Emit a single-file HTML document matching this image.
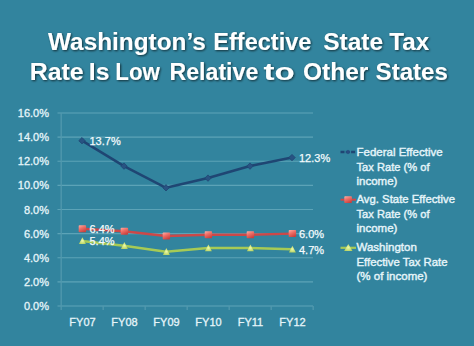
<!DOCTYPE html>
<html><head><meta charset="utf-8">
<style>
html,body{margin:0;padding:0;}
body{width:474px;height:346px;overflow:hidden;background:#32849e;}
svg{display:block;}
text{font-family:"Liberation Sans",sans-serif;}
</style></head>
<body>
<svg width="474" height="346" viewBox="0 0 474 346">
<defs>
<filter id="sh" x="-5%" y="-20%" width="110%" height="150%">
<feGaussianBlur in="SourceAlpha" stdDeviation="0.8"/>
<feOffset dx="1.2" dy="1.2" result="b"/>
<feComponentTransfer><feFuncA type="linear" slope="0.65"/></feComponentTransfer>
<feMerge><feMergeNode/><feMergeNode in="SourceGraphic"/></feMerge>
</filter>
<filter id="bl" x="-20%" y="-20%" width="140%" height="140%"><feGaussianBlur stdDeviation="0.35"/></filter>
<linearGradient id="rg" x1="0.1" y1="0" x2="0.6" y2="1">
<stop offset="0" stop-color="#ffa8a0"/><stop offset="0.45" stop-color="#ee6e66"/><stop offset="1" stop-color="#c8403e"/>
</linearGradient>
<radialGradient id="gg" cx="0.5" cy="0.5" r="0.7">
<stop offset="0" stop-color="#eefaa8"/><stop offset="1" stop-color="#a8c850"/>
</radialGradient>
</defs>
<rect x="0" y="0" width="474" height="346" fill="#32849e"/>
<g filter="url(#sh)" fill="#ffffff" font-weight="bold" font-size="24">
<text x="48.01" y="49.7" textLength="157.85" lengthAdjust="spacingAndGlyphs">Washington’s</text>
<text x="213.36" y="49.7" textLength="97.95" lengthAdjust="spacingAndGlyphs">Effective</text>
<text x="323.26" y="49.7" textLength="59.81" lengthAdjust="spacingAndGlyphs">State</text>
<text x="389.32" y="49.7" textLength="39.9" lengthAdjust="spacingAndGlyphs">Tax</text>
<text x="29.67" y="79.7" textLength="53.97" lengthAdjust="spacingAndGlyphs">Rate</text>
<text x="88.78" y="79.7" textLength="20.6" lengthAdjust="spacingAndGlyphs">Is</text>
<text x="115.34" y="79.7" textLength="44.57" lengthAdjust="spacingAndGlyphs">Low</text>
<text x="169.48" y="79.7" textLength="88.84" lengthAdjust="spacingAndGlyphs">Relative</text>
<text x="263.6" y="79.7" textLength="31.18" lengthAdjust="spacingAndGlyphs">to</text>
<text x="302.98" y="79.7" textLength="65.42" lengthAdjust="spacingAndGlyphs">Other</text>
<text x="375.57" y="79.7" textLength="72.32" lengthAdjust="spacingAndGlyphs">States</text>
</g>

<g stroke="#5ca3b7" stroke-width="1.15" fill="none" filter="url(#bl)">
<line x1="57.5" y1="113.00" x2="313" y2="113.00"/>
<line x1="57.5" y1="137.12" x2="313" y2="137.12"/>
<line x1="57.5" y1="161.25" x2="313" y2="161.25"/>
<line x1="57.5" y1="185.38" x2="313" y2="185.38"/>
<line x1="57.5" y1="209.50" x2="313" y2="209.50"/>
<line x1="57.5" y1="233.62" x2="313" y2="233.62"/>
<line x1="57.5" y1="257.75" x2="313" y2="257.75"/>
<line x1="57.5" y1="281.88" x2="313" y2="281.88"/>
<line x1="57.5" y1="306.00" x2="313" y2="306.00"/>
</g>
<g stroke="#5199ad" stroke-width="1.3" fill="none" filter="url(#bl)">
<line x1="61.2" y1="113" x2="61.2" y2="310"/>
<line x1="103.2" y1="306" x2="103.2" y2="310"/>
<line x1="145.2" y1="306" x2="145.2" y2="310"/>
<line x1="187.2" y1="306" x2="187.2" y2="310"/>
<line x1="229.2" y1="306" x2="229.2" y2="310"/>
<line x1="271.2" y1="306" x2="271.2" y2="310"/>
<line x1="313.2" y1="306" x2="313.2" y2="310"/>
</g>
<g fill="#e6f5fa" stroke="#e6f5fa" stroke-width="0.3" font-size="11" text-anchor="end">
<text x="49" y="117.0">16.0%</text>
<text x="49" y="141.1">14.0%</text>
<text x="49" y="165.2">12.0%</text>
<text x="49" y="189.4">10.0%</text>
<text x="49" y="213.5">8.0%</text>
<text x="49" y="237.6">6.0%</text>
<text x="49" y="261.8">4.0%</text>
<text x="49" y="285.9">2.0%</text>
<text x="49" y="310.0">0.0%</text>
</g>
<g fill="#e6f5fa" stroke="#e6f5fa" stroke-width="0.3" font-size="11" text-anchor="middle">
<text x="82.5" y="326">FY07</text>
<text x="124.5" y="326">FY08</text>
<text x="166.5" y="326">FY09</text>
<text x="208.5" y="326">FY10</text>
<text x="250.5" y="326">FY11</text>
<text x="292.5" y="326">FY12</text>
</g>
<polyline points="82,140.7 124,166.1 166,187.8 208,178.1 250,166.1 292,157.6" fill="none" stroke="#1f4673" stroke-width="2.6" stroke-linejoin="round"/>
<g fill="#285382" stroke="#1f4673" stroke-width="0.8">
<path d="M82 137.5 L85.2 140.7 L82 143.9 L78.8 140.7Z"/>
<path d="M124 162.9 L127.2 166.1 L124 169.3 L120.8 166.1Z"/>
<path d="M166 184.6 L169.2 187.8 L166 191.0 L162.8 187.8Z"/>
<path d="M208 174.9 L211.2 178.1 L208 181.3 L204.8 178.1Z"/>
<path d="M250 162.9 L253.2 166.1 L250 169.3 L246.8 166.1Z"/>
<path d="M292 154.4 L295.2 157.6 L292 160.8 L288.8 157.6Z"/>
</g>
<polyline points="82,228.8 124,231.2 166,236.0 208,234.8 250,234.8 292,233.6" fill="none" stroke="#cc4848" stroke-width="2.4" stroke-linejoin="round"/>
<g fill="url(#rg)">
<rect x="78.7" y="225.3" width="7.4" height="7" rx="0.8"/>
<rect x="120.7" y="227.7" width="7.4" height="7" rx="0.8"/>
<rect x="162.7" y="232.5" width="7.4" height="7" rx="0.8"/>
<rect x="204.7" y="231.3" width="7.4" height="7" rx="0.8"/>
<rect x="246.7" y="231.3" width="7.4" height="7" rx="0.8"/>
<rect x="288.7" y="230.1" width="7.4" height="7" rx="0.8"/>
</g>
<polyline points="82,240.9 124,245.7 166,251.7 208,248.1 250,248.1 292,249.3" fill="none" stroke="#a6ca55" stroke-width="2.5" stroke-linejoin="round"/>
<g fill="url(#gg)">
<path d="M82.4 237.3 L85.9 244.1 L78.9 244.1Z"/>
<path d="M124.4 242.1 L127.9 248.9 L120.9 248.9Z"/>
<path d="M166.4 248.1 L169.9 254.9 L162.9 254.9Z"/>
<path d="M208.4 244.5 L211.9 251.3 L204.9 251.3Z"/>
<path d="M250.4 244.5 L253.9 251.3 L246.9 251.3Z"/>
<path d="M292.4 245.7 L295.9 252.5 L288.9 252.5Z"/>
</g>
<g fill="#f4fbfd" stroke="#f4fbfd" stroke-width="0.25" font-size="11">
<text x="89.5" y="145">13.7%</text>
<text x="299" y="162">12.3%</text>
<text x="89.5" y="233">6.4%</text>
<text x="89.5" y="245">5.4%</text>
<text x="299" y="238">6.0%</text>
<text x="299" y="254">4.7%</text>
</g>
<line x1="340.5" y1="152" x2="356" y2="152" stroke="#1f4673" stroke-width="2.6" stroke-dasharray="4,1.3"/>
<path d="M348 149.8 L350.4 152 L348 154.2 L345.6 152Z" fill="#284d80"/>
<line x1="340.5" y1="199.7" x2="356" y2="199.7" stroke="#cc4848" stroke-width="2"/>
<rect x="344.3" y="196.3" width="7.6" height="6.8" rx="0.8" fill="url(#rg)"/>
<line x1="340.5" y1="247.8" x2="356" y2="247.8" stroke="#a6ca55" stroke-width="2.2"/>
<path d="M348.3 244 L352.5 251 L344.1 251Z" fill="url(#gg)"/>
<g fill="#e6f5fa" stroke="#e6f5fa" stroke-width="0.4" font-size="11.5">
<text x="356.5" y="156.2">Federal Effective</text>
<text x="356.5" y="170.6" textLength="73" lengthAdjust="spacingAndGlyphs">Tax Rate (% of</text>
<text x="356.5" y="185">income)</text>
<text x="356.5" y="203.4" textLength="98.5" lengthAdjust="spacingAndGlyphs">Avg. State Effective</text>
<text x="356.5" y="217.8" textLength="73" lengthAdjust="spacingAndGlyphs">Tax Rate (% of</text>
<text x="356.5" y="232.2">income)</text>
<text x="356.5" y="251.4">Washington</text>
<text x="356.5" y="265.8" textLength="91" lengthAdjust="spacingAndGlyphs">Effective Tax Rate</text>
<text x="356.5" y="280.2">(% of income)</text>
</g>
</svg>
</body></html>
